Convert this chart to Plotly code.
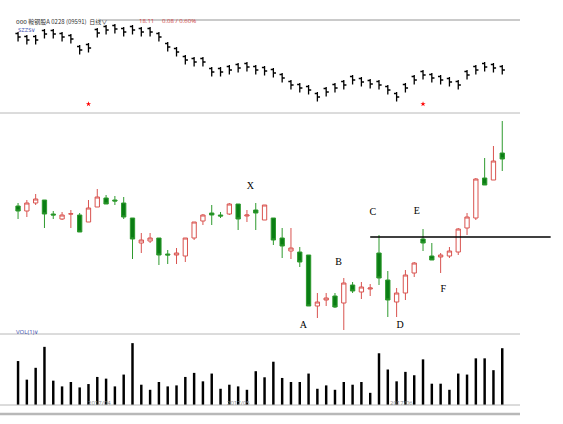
import plotly.graph_objects as go

# Hauptchart: Tageskerzen (Open, Close, High, Low)
k_open = [12.4, 11.9, 12.7, 13.0, 11.6, 11.1, 11.6, 11.5, 10.8, 12.3, 13.2, 13.0, 12.7, 11.2,
          8.7, 8.9, 9.2, 7.6, 7.5, 7.4, 9.2, 10.9, 11.7, 11.5, 11.6, 12.6, 11.4, 12.0, 11.0, 11.2,
          9.2, 7.9, 7.8, 7.5, 2.4, 3.0, 3.4, 2.7, 4.5, 3.8, 4.1, 7.7, 5.0, 2.8, 3.7, 5.7,
          9.1, 7.4, 7.3, 7.4, 7.8, 10.2, 11.2, 15.2, 15.0, 17.7]
k_close = [11.9, 12.7, 13.1, 11.6, 11.5, 11.5, 11.62, 9.8, 12.2, 13.3, 12.6, 12.9, 11.3, 9.1,
           9.0, 9.2, 7.5, 7.5, 7.7, 9.2, 10.8, 11.5, 11.5, 11.4, 12.6, 11.1, 11.5, 11.7, 12.5, 9.0,
           8.4, 8.2, 6.8, 2.4, 2.8, 3.2, 2.3, 4.7, 3.9, 4.3, 4.2, 5.2, 3.0, 3.7, 5.5, 6.7,
           8.7, 7.0, 7.5, 7.9, 10.1, 11.3, 15.1, 14.5, 16.9, 17.1]
k_high = [12.7, 13.0, 13.6, 13.0, 11.9, 11.8, 12.0, 11.7, 13.0, 14.1, 13.5, 13.4, 13.3, 11.2,
          9.7, 9.7, 9.2, 8.0, 8.2, 9.2, 10.8, 11.6, 12.5, 11.8, 12.7, 12.6, 12.0, 12.7, 12.5, 11.2,
          10.2, 10.2, 8.3, 7.5, 3.7, 3.7, 3.7, 5.2, 4.8, 4.8, 4.6, 9.5, 5.9, 4.2, 6.0, 6.8,
          10.1, 8.7, 7.7, 8.3, 10.2, 11.7, 15.2, 17.2, 18.4, 20.9]
k_low = [11.1, 11.3, 12.5, 10.2, 11.1, 11.0, 10.2, 9.8, 10.8, 12.3, 12.6, 12.5, 11.1, 7.1,
         7.7, 8.7, 6.5, 6.6, 6.6, 6.8, 9.0, 10.5, 10.5, 11.2, 11.5, 10.0, 10.8, 10.0, 11.0, 8.5,
         7.2, 7.1, 6.3, 2.4, 1.2, 2.4, 2.2, 0.0, 3.7, 3.1, 3.4, 4.5, 1.3, 1.3, 3.0, 5.3,
         7.9, 7.0, 5.7, 7.2, 7.5, 9.5, 11.0, 14.5, 15.0, 15.9]

# Volumen
volume = [130, 75, 110, 172, 72, 55, 68, 52, 62, 83, 78, 55, 90, 183, 60, 45, 68, 55, 58, 83,
          95, 70, 93, 48, 60, 55, 45, 100, 82, 128, 80, 68, 68, 93, 48, 58, 45, 68, 60, 68,
          36, 153, 105, 70, 98, 88, 135, 63, 63, 45, 93, 90, 138, 138, 103, 168]

# Oberes Fenster (Index SZZS), Schlusswerte
top_close = [8.3, 8.0, 8.0, 8.6, 8.6, 8.3, 8.1, 7.0, 7.2, 8.7, 9.0, 9.1, 8.8, 9.0, 8.8, 8.8,
             8.3, 7.3, 6.8, 6.0, 5.8, 5.8, 4.8, 4.8, 5.0, 5.2, 5.3, 5.0, 4.9, 4.7, 4.2, 3.5,
             3.2, 3.0, 2.3, 2.8, 3.2, 3.5, 4.0, 3.8, 3.6, 3.5, 3.0, 2.3, 3.2, 4.0, 4.5, 4.2,
             4.0, 3.8, 3.5, 4.5, 5.0, 5.3, 5.2, 5.0]
top_marks = [8, 46]

labels = ["X", "A", "B", "C", "D", "E", "F"]
label_x = [26.4, 32.4, 36.4, 40.3, 43.4, 45.3, 48.3]
label_y = [14.4, 0.5, 6.8, 11.8, 0.5, 11.9, 4.1]
level_price = 9.3
date_labels = ["2017/04", "2017/05", "2017/06"]
date_x = [9.3, 25.0, 43.6]

idx = list(range(len(k_open)))
RED = "#d9534f"
GREEN = "#0a7d14"

fig = go.Figure()

fig.add_trace(go.Ohlc(
    x=idx, open=[v + 0.35 for v in top_close], high=[v + 0.5 for v in top_close],
    low=[v - 0.45 for v in top_close], close=top_close,
    increasing_line_color="black", decreasing_line_color="black",
    line_width=1.3, tickwidth=0.3, yaxis="y3", hoverinfo="skip"))
fig.add_trace(go.Scatter(
    x=top_marks, y=[1.6] * len(top_marks), mode="markers",
    marker=dict(color="red", size=4, symbol="star"), yaxis="y3", hoverinfo="skip"))

fig.add_trace(go.Candlestick(
    x=idx, open=k_open, high=k_high, low=k_low, close=k_close,
    increasing=dict(line=dict(color=RED, width=1), fillcolor="white"),
    decreasing=dict(line=dict(color="#2e9a2e", width=1), fillcolor=GREEN),
    whiskerwidth=0, yaxis="y2", hoverinfo="skip"))

fig.add_trace(go.Bar(x=idx, y=volume, width=0.28, marker_color="black",
                     marker_line_width=0, yaxis="y", hoverinfo="skip"))

fig.add_trace(go.Scatter(
    x=label_x, y=label_y, mode="text", text=labels, yaxis="y2",
    textfont=dict(family="Liberation Serif", size=10, color="black"), hoverinfo="skip"))
fig.add_trace(go.Scatter(
    x=[40.0, 60.5], y=[level_price, level_price], mode="lines",
    line=dict(color="black", width=1.3), yaxis="y2", hoverinfo="skip"))

gray = "#b8b8b8"
shapes = []
for py, w in [(20, 1.5), (113, 1), (334, 1), (405, 1), (414, 2.5)]:
    yy = 1 - py / 424
    x0 = 100 / 563 if py == 20 else 0
    shapes.append(dict(type="line", xref="paper", yref="paper", x0=x0, x1=520 / 563,
                       y0=yy, y1=yy, line=dict(color=gray, width=w)))

annotations = [
    dict(text="ooo 鞍钢股A 0228 (09591)  日线∨", x=14 / 563, y=1 - 15 / 424,
         font=dict(size=6, color="#333", family="Noto Sans CJK SC")),
    dict(text="18.11     0.08 / 0.60%", x=137 / 563, y=1 - 15 / 424,
         font=dict(size=6, color="#d04040")),
    dict(text="SZZS∨", x=16 / 563, y=1 - 24 / 424, font=dict(size=6, color="#4050b0")),
    dict(text="VOL(1)∨", x=14 / 563, y=1 - 338 / 424, font=dict(size=6, color="#4050b0")),
]
for a in annotations:
    a.update(xref="paper", yref="paper", showarrow=False, xanchor="left")
for t, xv in zip(date_labels, date_x):
    annotations.append(dict(text=t, x=xv, xref="x", y=1 - 409 / 424, yref="paper",
                            showarrow=False, font=dict(size=6, color="#888")))

fig.update_layout(
    width=563, height=424, margin=dict(l=0, r=0, t=0, b=0),
    paper_bgcolor="white", plot_bgcolor="white", showlegend=False,
    xaxis=dict(range=[-2.05, 61.9], visible=False, rangeslider=dict(visible=False)),
    yaxis=dict(domain=[1 - 405 / 424, 1 - 334 / 424], range=[0, 210], visible=False),
    yaxis2=dict(domain=[1 - 334 / 424, 1 - 113 / 424], range=[-0.4, 21.7], visible=False),
    yaxis3=dict(domain=[1 - 108 / 424, 1 - 24 / 424], range=[1.2, 9.6], visible=False),
    shapes=shapes, annotations=annotations,
)

fig.write_html("out.html", config={"displayModeBar": False},
               post_script="document.body.style.margin='0';")
